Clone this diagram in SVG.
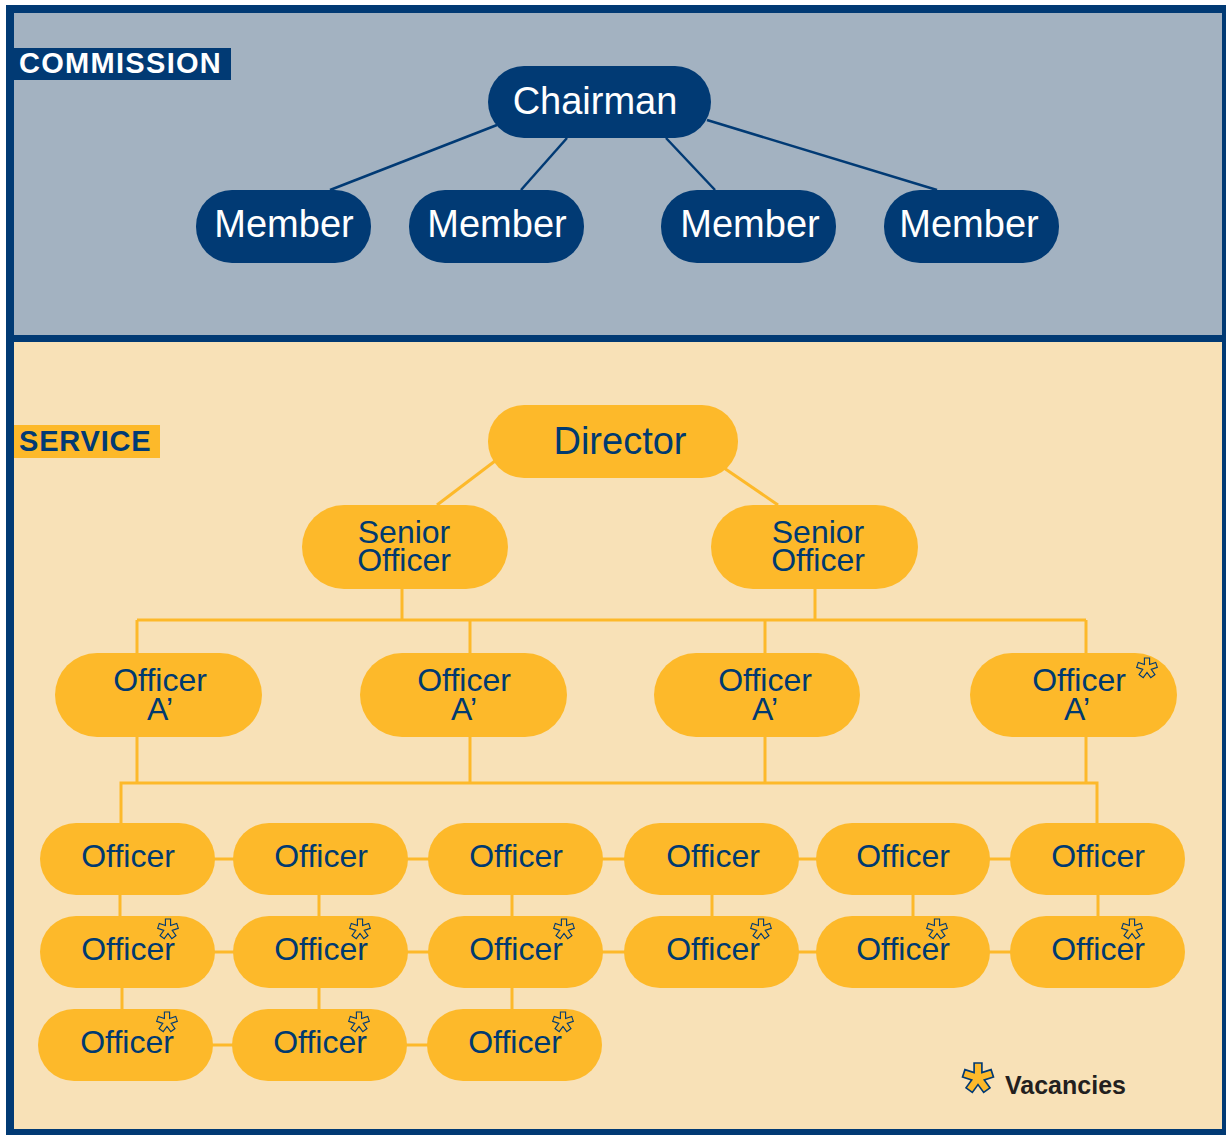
<svg xmlns="http://www.w3.org/2000/svg" width="1226" height="1135" viewBox="0 0 1226 1135">
<style>
.navy{fill:#013a74}
.pillN{fill:#013a74}
.pillY{fill:#fdb92a}
.tw{font-family:"Liberation Sans",Arial,sans-serif;fill:#ffffff;font-size:38px;text-anchor:middle}
.ty{font-family:"Liberation Sans",Arial,sans-serif;fill:#003a70;text-anchor:middle}
.lblB{font-family:"Liberation Sans",Arial,sans-serif;font-weight:bold;font-size:29px}
.cn{stroke:#013a74;stroke-width:2.5;fill:none}
.cy{stroke:#fdb92a;stroke-width:3;fill:none}
.ast{fill:#fdb92a;stroke:#013a74;stroke-width:1.1;stroke-linejoin:miter}
</style>
<defs>
<path id="star" d="M-2.6,-10 L2.6,-10 L2.6,-3.58 L8.708,-5.563 L10.314,-0.617 L4.204,1.366 L7.981,6.562 L3.775,9.618 L0,4.42 L-3.775,9.618 L-7.981,6.562 L-4.204,1.366 L-10.314,-0.617 L-8.708,-5.563 L-2.6,-3.58 Z"/>
</defs>
<g id="background">
<rect x="6" y="5" width="1220" height="1130" class="navy"/>
<rect x="14" y="13" width="1208" height="322" fill="#a3b2c1"/>
<rect x="14" y="342" width="1208" height="787" fill="#f8e1b7"/>
</g>
<g id="labels">
<rect x="14" y="48" width="217" height="32" class="navy"/>
<text x="19" y="73" class="lblB" fill="#ffffff" letter-spacing="1.3">COMMISSION</text>
<rect x="14" y="425" width="146" height="33" fill="#fdb92a"/>
<text x="19" y="451" class="lblB" fill="#013a74" letter-spacing="0.8">SERVICE</text>
</g>
<g id="connectors">
<line x1="497" y1="125" x2="330" y2="190" class="cn"/>
<line x1="567" y1="138" x2="521" y2="190" class="cn"/>
<line x1="666" y1="138" x2="715" y2="190" class="cn"/>
<line x1="707" y1="120" x2="937" y2="190" class="cn"/>
<line x1="495" y1="461" x2="437" y2="505" class="cy"/>
<line x1="724" y1="468" x2="778" y2="505" class="cy"/>
<line x1="402" y1="589" x2="402" y2="620" class="cy"/>
<line x1="815" y1="589" x2="815" y2="620" class="cy"/>
<line x1="137" y1="620" x2="1086" y2="620" class="cy"/>
<line x1="137" y1="620" x2="137" y2="653" class="cy"/>
<line x1="470" y1="620" x2="470" y2="653" class="cy"/>
<line x1="765" y1="620" x2="765" y2="653" class="cy"/>
<line x1="1086" y1="620" x2="1086" y2="653" class="cy"/>
<line x1="137" y1="737" x2="137" y2="783" class="cy"/>
<line x1="470" y1="737" x2="470" y2="783" class="cy"/>
<line x1="765" y1="737" x2="765" y2="783" class="cy"/>
<line x1="1086" y1="737" x2="1086" y2="783" class="cy"/>
<polyline points="121,823 121,783 1097,783 1097,823" class="cy"/>
<line x1="127" y1="859" x2="1097" y2="859" class="cy"/>
<line x1="127" y1="952" x2="1097" y2="952" class="cy"/>
<line x1="127" y1="1045" x2="515" y2="1045" class="cy"/>
<line x1="120" y1="894" x2="120" y2="917" class="cy"/>
<line x1="319" y1="894" x2="319" y2="917" class="cy"/>
<line x1="512" y1="894" x2="512" y2="917" class="cy"/>
<line x1="712" y1="894" x2="712" y2="917" class="cy"/>
<line x1="913" y1="894" x2="913" y2="917" class="cy"/>
<line x1="1098" y1="894" x2="1098" y2="917" class="cy"/>
<line x1="122" y1="987" x2="122" y2="1010" class="cy"/>
<line x1="319" y1="987" x2="319" y2="1010" class="cy"/>
<line x1="512" y1="987" x2="512" y2="1010" class="cy"/>
</g>
<g id="chairman"><rect x="488" y="66" width="223" height="72" rx="36" class="pillN"/><text x="595" y="114" class="tw">Chairman</text></g>
<g id="member1"><rect x="196" y="190" width="175" height="73" rx="36" class="pillN"/><text x="284" y="237" class="tw">Member</text></g>
<g id="member2"><rect x="409" y="190" width="175" height="73" rx="36" class="pillN"/><text x="497" y="237" class="tw">Member</text></g>
<g id="member3"><rect x="661" y="190" width="175" height="73" rx="36" class="pillN"/><text x="750" y="237" class="tw">Member</text></g>
<g id="member4"><rect x="884" y="190" width="175" height="73" rx="36" class="pillN"/><text x="969" y="237" class="tw">Member</text></g>
<g id="director"><rect x="488" y="405" width="250" height="73" rx="36" class="pillY"/><text x="620" y="454" class="ty" font-size="38">Director</text></g>
<g id="senior1"><rect x="302" y="505" width="206" height="84" rx="42" class="pillY"/><text class="ty" font-size="32"><tspan x="404" y="543">Senior</tspan><tspan x="404" y="571">Officer</tspan></text></g>
<g id="senior2"><rect x="711" y="505" width="207" height="84" rx="42" class="pillY"/><text class="ty" font-size="32"><tspan x="818" y="543">Senior</tspan><tspan x="818" y="571">Officer</tspan></text></g>
<g id="officerA1"><rect x="55" y="653" width="207" height="84" rx="42" class="pillY"/><text class="ty" font-size="32"><tspan x="160" y="691">Officer</tspan><tspan x="160" y="720">A’</tspan></text></g>
<g id="officerA2"><rect x="360" y="653" width="207" height="84" rx="42" class="pillY"/><text class="ty" font-size="32"><tspan x="464" y="691">Officer</tspan><tspan x="464" y="720">A’</tspan></text></g>
<g id="officerA3"><rect x="654" y="653" width="206" height="84" rx="42" class="pillY"/><text class="ty" font-size="32"><tspan x="765" y="691">Officer</tspan><tspan x="765" y="720">A’</tspan></text></g>
<g id="officerA4"><rect x="970" y="653" width="207" height="84" rx="42" class="pillY"/><text class="ty" font-size="32"><tspan x="1079" y="691">Officer</tspan><tspan x="1077" y="720">A’</tspan></text><use href="#star" x="1147" y="668" class="ast"/></g>
<g id="officer-r1c1"><rect x="40" y="823" width="175" height="72" rx="36" class="pillY"/><text x="128" y="867" class="ty" font-size="32">Officer</text></g>
<g id="officer-r1c2"><rect x="233" y="823" width="175" height="72" rx="36" class="pillY"/><text x="321" y="867" class="ty" font-size="32">Officer</text></g>
<g id="officer-r1c3"><rect x="428" y="823" width="175" height="72" rx="36" class="pillY"/><text x="516" y="867" class="ty" font-size="32">Officer</text></g>
<g id="officer-r1c4"><rect x="624" y="823" width="175" height="72" rx="36" class="pillY"/><text x="713" y="867" class="ty" font-size="32">Officer</text></g>
<g id="officer-r1c5"><rect x="816" y="823" width="174" height="72" rx="36" class="pillY"/><text x="903" y="867" class="ty" font-size="32">Officer</text></g>
<g id="officer-r1c6"><rect x="1010" y="823" width="175" height="72" rx="36" class="pillY"/><text x="1098" y="867" class="ty" font-size="32">Officer</text></g>
<g id="officer-r2c1"><rect x="40" y="916" width="175" height="72" rx="36" class="pillY"/><text x="128" y="960" class="ty" font-size="32">Officer</text><use href="#star" x="168" y="929" class="ast"/></g>
<g id="officer-r2c2"><rect x="233" y="916" width="175" height="72" rx="36" class="pillY"/><text x="321" y="960" class="ty" font-size="32">Officer</text><use href="#star" x="360" y="929" class="ast"/></g>
<g id="officer-r2c3"><rect x="428" y="916" width="175" height="72" rx="36" class="pillY"/><text x="516" y="960" class="ty" font-size="32">Officer</text><use href="#star" x="564" y="929" class="ast"/></g>
<g id="officer-r2c4"><rect x="624" y="916" width="175" height="72" rx="36" class="pillY"/><text x="713" y="960" class="ty" font-size="32">Officer</text><use href="#star" x="761" y="929" class="ast"/></g>
<g id="officer-r2c5"><rect x="816" y="916" width="174" height="72" rx="36" class="pillY"/><text x="903" y="960" class="ty" font-size="32">Officer</text><use href="#star" x="937" y="929" class="ast"/></g>
<g id="officer-r2c6"><rect x="1010" y="916" width="175" height="72" rx="36" class="pillY"/><text x="1098" y="960" class="ty" font-size="32">Officer</text><use href="#star" x="1132" y="929" class="ast"/></g>
<g id="officer-r3c1"><rect x="38" y="1009" width="175" height="72" rx="36" class="pillY"/><text x="127" y="1053" class="ty" font-size="32">Officer</text><use href="#star" x="167" y="1022" class="ast"/></g>
<g id="officer-r3c2"><rect x="232" y="1009" width="175" height="72" rx="36" class="pillY"/><text x="320" y="1053" class="ty" font-size="32">Officer</text><use href="#star" x="359" y="1022" class="ast"/></g>
<g id="officer-r3c3"><rect x="427" y="1009" width="175" height="72" rx="36" class="pillY"/><text x="515" y="1053" class="ty" font-size="32">Officer</text><use href="#star" x="563" y="1022" class="ast"/></g>
<g id="legend">
<use href="#star" transform="translate(978,1078) scale(1.5)" class="ast" stroke-width="0.8"/>
<text x="1005" y="1094" font-family="'Liberation Sans',Arial,sans-serif" font-weight="bold" font-size="25" fill="#231f20">Vacancies</text>
</g>
</svg>
